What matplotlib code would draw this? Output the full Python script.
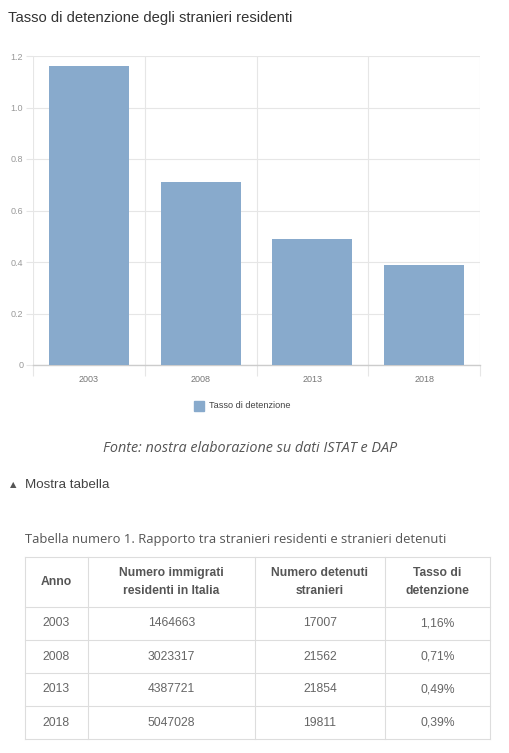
import matplotlib.pyplot as plt
from matplotlib.ticker import FixedLocator

# chart data
years = ['2003', '2008', '2013', '2018']
tasso = [1.16, 0.71, 0.49, 0.39]

# table data
immigrati = ['1464663', '3023317', '4387721', '5047028']
detenuti = ['17007', '21562', '21854', '19811']
tasso_txt = ['1,16%', '0,71%', '0,49%', '0,39%']
headers = ['Anno', 'Numero immigrati\nresidenti in Italia', 'Numero detenuti\nstranieri', 'Tasso di\ndetenzione']

W, H = 510, 753
fig = plt.figure(figsize=(W / 100, H / 100), dpi=100)
plt.rcParams['font.family'] = ['Liberation Sans', 'DejaVu Sans']


def fx(px):
    return px / W


def fy(py):
    return 1 - py / H


bar_color = '#88aacc'
grid_color = '#e6e6e6'

fig.text(fx(8), fy(18), 'Tasso di detenzione degli stranieri residenti',
         fontsize=10.6, color='#333333', va='center', ha='left')

ax = fig.add_axes([fx(33), fy(365), fx(480) - fx(33), fy(56) - fy(365)])
x = list(range(len(years)))
ax.bar(x, tasso, width=0.715, color=bar_color, zorder=3)
ax.set_xlim(-0.5, len(years) - 0.5)
ax.set_ylim(0, 1.2)

for s in ['top', 'right', 'left']:
    ax.spines[s].set_visible(False)
ax.spines['bottom'].set_color('#cccccc')
ax.spines['bottom'].set_linewidth(1)

ax.set_yticks([0, 0.2, 0.4, 0.6, 0.8, 1.0, 1.2])
ax.set_yticklabels(['0', '0.2', '0.4', '0.6', '0.8', '1.0', '1.2'])
ax.tick_params(axis='y', length=5, color=grid_color, labelsize=6.5,
               labelcolor='#999999', pad=2)
ax.grid(axis='y', color=grid_color, linewidth=0.8, zorder=0)

ax.set_xticks(x)
ax.set_xticklabels(years)
ax.tick_params(axis='x', which='major', length=0, labelsize=6.5,
               labelcolor='#777777', pad=7.5)
ax.xaxis.set_minor_locator(FixedLocator([i - 0.5 for i in range(len(years) + 1)]))
ax.tick_params(axis='x', which='minor', length=8, color=grid_color, width=0.8)
ax.grid(axis='x', which='minor', color=grid_color, linewidth=0.8, zorder=0)

# legend
fig.patches.append(plt.Rectangle((fx(194), fy(411)), fx(10), fy(401) - fy(411),
                                 transform=fig.transFigure, color=bar_color))
fig.text(fx(209), fy(406), 'Tasso di detenzione', fontsize=6.6, color='#444444',
         va='center', ha='left')

fig.text(fx(250), fy(449), 'Fonte: nostra elaborazione su dati ISTAT e DAP',
         fontsize=10.4, color='#555555', style='italic', va='center', ha='center',
         family=['Open Sans', 'DejaVu Sans'])

fig.text(fx(10), fy(485), '\u25b2', fontsize=6, color='#555555', va='center', ha='left',
         family=['DejaVu Sans'])
fig.text(fx(25), fy(485), 'Mostra tabella', fontsize=9.6, color='#444444',
         va='center', ha='left')

fig.text(fx(25), fy(540), 'Tabella numero 1. Rapporto tra stranieri residenti e stranieri detenuti',
         fontsize=9.4, color='#555555', va='center', ha='left',
         family=['Open Sans', 'DejaVu Sans'])

# table
col_edges = [25, 88, 255, 385, 490]
row_edges = [557, 607, 640, 673, 706, 739]
line_color = '#dddddd'
for cx in col_edges:
    fig.add_artist(plt.Line2D([fx(cx), fx(cx)], [fy(row_edges[0]), fy(row_edges[-1])],
                              color=line_color, linewidth=0.8))
for ry in row_edges:
    fig.add_artist(plt.Line2D([fx(col_edges[0]), fx(col_edges[-1])], [fy(ry), fy(ry)],
                              color=line_color, linewidth=0.8))

for j, h in enumerate(headers):
    cx = (col_edges[j] + col_edges[j + 1]) / 2
    cy = (row_edges[0] + row_edges[1]) / 2
    fig.text(fx(cx), fy(cy), h, fontsize=8.7, fontweight='bold', color='#555555',
             ha='center', va='center', linespacing=1.6)

rows = list(zip(years, immigrati, detenuti, tasso_txt))
for i, row in enumerate(rows):
    cy = (row_edges[i + 1] + row_edges[i + 2]) / 2
    for j, val in enumerate(row):
        cx = (col_edges[j] + col_edges[j + 1]) / 2
        fig.text(fx(cx), fy(cy), val, fontsize=8.7, color='#666666',
                 ha='center', va='center')

fig.savefig('out.png', dpi=100)
